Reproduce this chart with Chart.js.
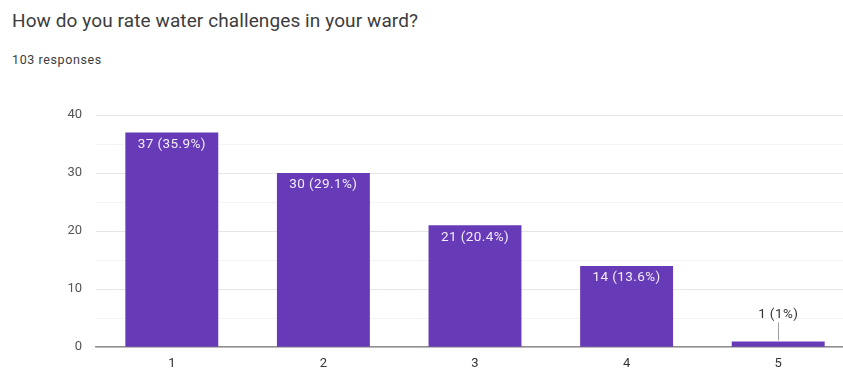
<!DOCTYPE html>
<html>
<head>
<meta charset="utf-8">
<script src="https://cdn.jsdelivr.net/npm/chart.js@4"></script>
<style>
  html, body { margin:0; padding:0; background:#fff; width:843px; height:369px; overflow:hidden; }
  #title { position:absolute; left:12px; top:9px; font-family:Roboto, "Noto Sans", sans-serif; font-size:19px; color:#3c3c3c; white-space:nowrap; letter-spacing:0.1px; }
  #sub { position:absolute; left:12px; top:52px; font-family:Roboto, "Noto Sans", sans-serif; font-size:12.5px; color:#3c3c3c; white-space:nowrap; letter-spacing:0.6px; }
  #wrap { position:absolute; left:0; top:0; width:870px; height:369px; }
</style>
</head>
<body>
<div id="title">How do you rate water challenges in your ward?</div>
<div id="sub">103 responses</div>
<div id="wrap"><canvas id="c"></canvas></div>
<script>
const categories = ["1", "2", "3", "4", "5"];
const counts = [37, 30, 21, 14, 1];
const percentLabels = ["35.9%", "29.1%", "20.4%", "13.6%", "1%"];
const yTicks = [0, 10, 20, 30, 40];

const barLabels = {
  id: 'barLabels',
  afterDatasetsDraw(chart) {
    const ctx = chart.ctx;
    const meta = chart.getDatasetMeta(0);
    ctx.save();
    ctx.font = '13.5px Roboto, "Noto Sans", sans-serif';
    ctx.letterSpacing = '0.4px';
    ctx.textAlign = 'center';
    ctx.textBaseline = 'middle';
    meta.data.forEach((bar, i) => {
      const txt = counts[i] + ' (' + percentLabels[i] + ')';
      const h = bar.base - bar.y;
      if (h > 24) {
        ctx.fillStyle = '#f2eefa';
        ctx.fillText(txt, bar.x, bar.y + 12);
      } else {
        ctx.strokeStyle = '#9e9e9e';
        ctx.lineWidth = 1;
        ctx.beginPath();
        ctx.moveTo(Math.round(bar.x) + 0.5, bar.y - 1);
        ctx.lineTo(Math.round(bar.x) + 0.5, bar.y - 19);
        ctx.stroke();
        ctx.fillStyle = '#333';
        ctx.fillText(txt, bar.x, bar.y - 27);
      }
    });
    ctx.restore();
  }
};

new Chart(document.getElementById('c'), {
  type: 'bar',
  data: {
    labels: categories,
    datasets: [{
      data: counts,
      backgroundColor: '#673ab7',
      borderWidth: 0,
      categoryPercentage: 1,
      barPercentage: 0.613
    }]
  },
  options: {
    responsive: true,
    maintainAspectRatio: false,
    animation: false,
    layout: { padding: { top: 115, right: 16, left: 0, bottom: 0 } },
    plugins: { legend: { display: false }, tooltip: { enabled: false } },
    scales: {
      x: {
        grid: { display: false, drawTicks: false },
        border: { display: true, color: '#8f8f8f', width: 1.5 },
        ticks: { color: '#333', padding: 9, font: { family: 'Roboto, "Noto Sans", sans-serif', size: 13 } },
        afterFit: s => { s.height = 21; }
      },
      y: {
        min: 0, max: 40,
        border: { display: false },
        grid: {
          drawTicks: false,
          color: ctx => (ctx.tick && ctx.tick.value % 10 === 0) ? '#e6e6e6' : '#f4f4f4',
          lineWidth: 1
        },
        ticks: {
          stepSize: 5,
          padding: 14,
          color: '#555',
          font: { family: 'Roboto, "Noto Sans", sans-serif', size: 13 },
          callback: v => yTicks.includes(v) ? String(v) : ''
        },
        afterFit: s => { s.width = 96; }
      }
    }
  },
  plugins: [barLabels]
});
</script>
</body>
</html>
